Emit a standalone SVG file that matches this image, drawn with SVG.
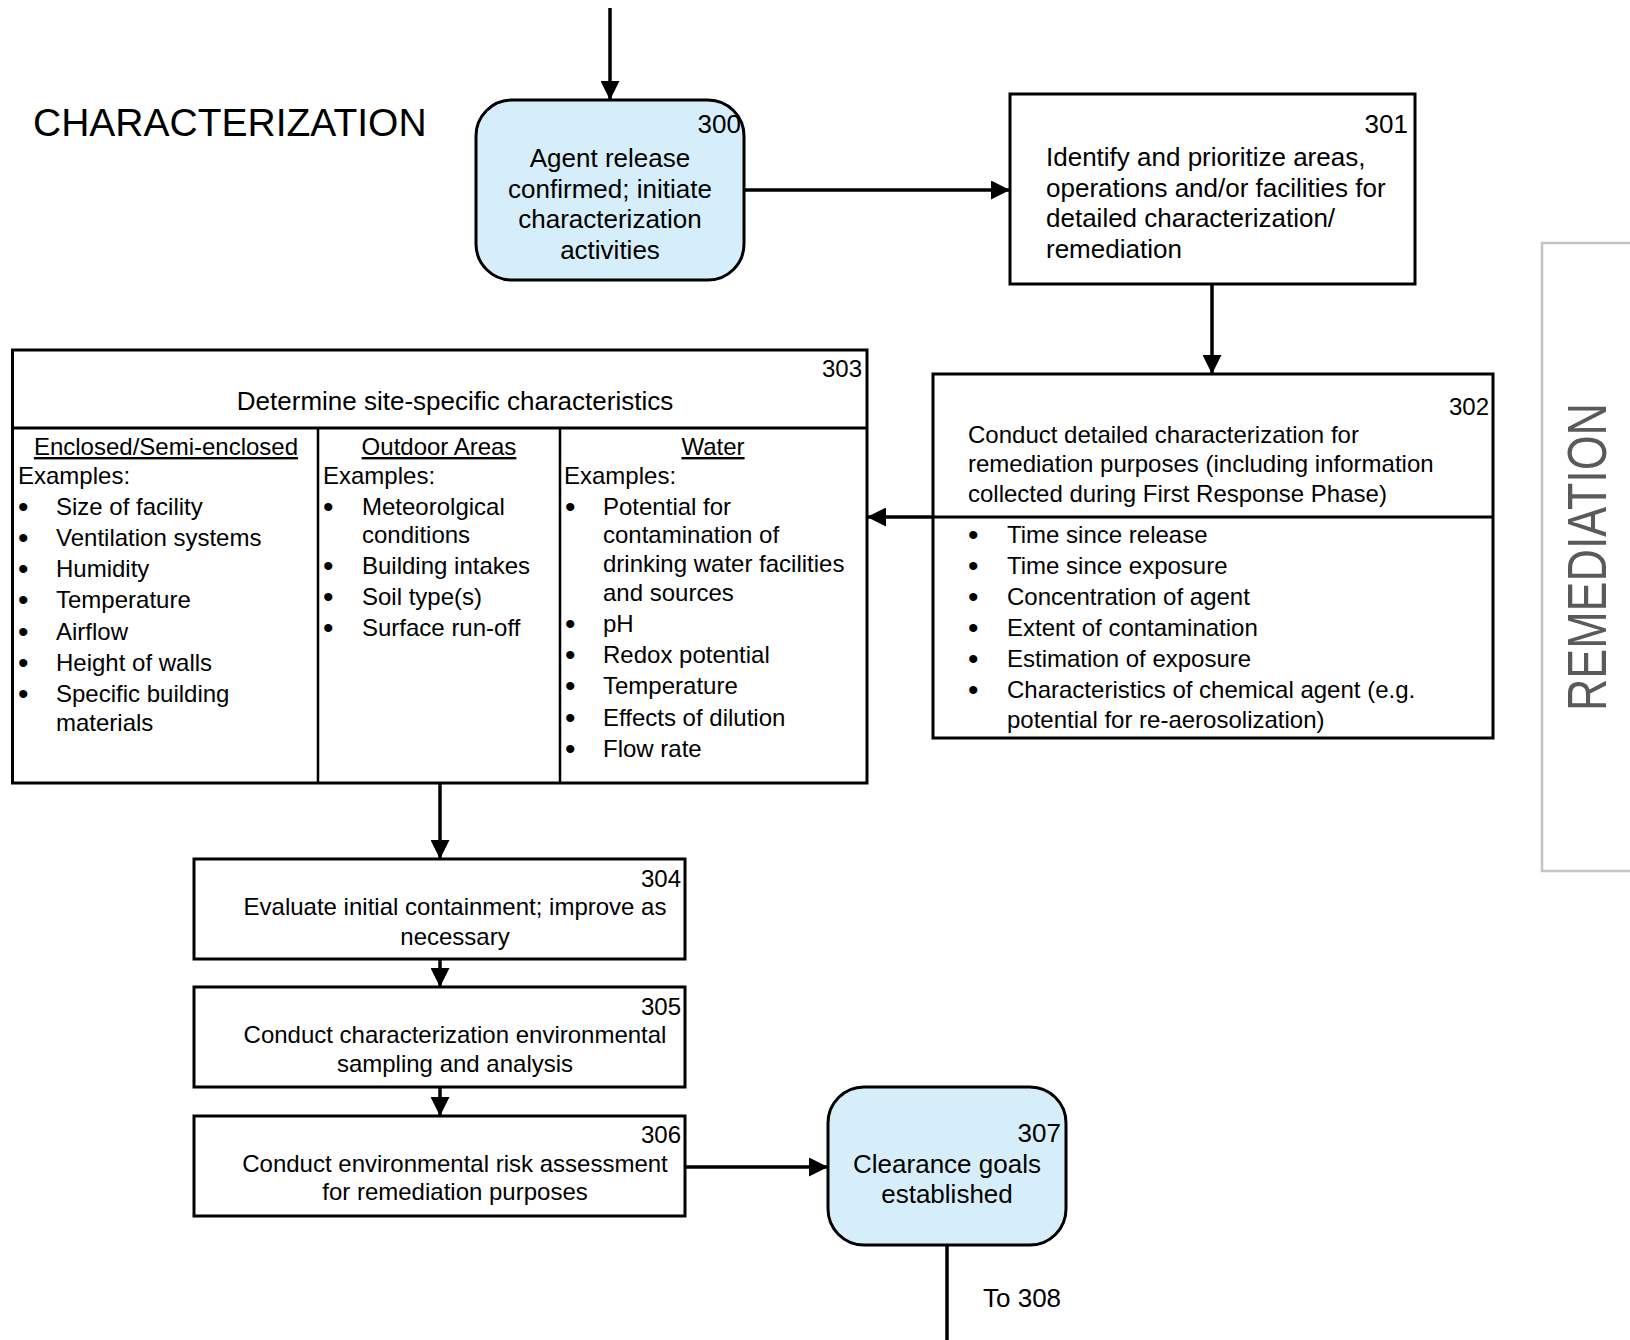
<svg xmlns="http://www.w3.org/2000/svg" width="1630" height="1340" viewBox="0 0 1630 1340">
  <style>
    .box { fill: #ffffff; stroke: #000000; stroke-width: 3; }
    .rbox { fill: #d6eef9; stroke: #000000; stroke-width: 3; }
    .div { stroke: #000000; stroke-width: 3; fill: none; }
    .thin { stroke: #000000; stroke-width: 2.5; fill: none; }
    .conn { stroke: #000000; stroke-width: 3.5; fill: none; }
    text { font-family: "Liberation Sans", Arial, sans-serif; fill: #000000; }
    .f26 { font-size: 26px; }
    .f24 { font-size: 24px; }
    .b { font-size: 30px; }
    .mid { text-anchor: middle; }
    .end { text-anchor: end; }
    .ul { text-decoration: underline; }
  </style>
  <defs>
    <marker id="arrow" markerUnits="userSpaceOnUse" markerWidth="19" markerHeight="19" refX="19" refY="9.5" orient="auto">
      <path d="M0,0 L19,9.5 L0,19 Z" fill="#000000"/>
    </marker>
  </defs>

  <rect width="1630" height="1340" fill="#ffffff"/>

  <!-- phase titles -->
  <text x="33" y="136" style="font-size:39px">CHARACTERIZATION</text>
  <g id="remediation-band">
    <rect x="1542" y="243" width="100" height="628" fill="#ffffff" stroke="#c4c4c4" stroke-width="2.5"/>
    <text transform="translate(1606,557) rotate(-90)" text-anchor="middle" style="font-size:55px;fill:#5a5a5a" textLength="308" lengthAdjust="spacingAndGlyphs">REMEDIATION</text>
  </g>

  <!-- connectors -->
  <g id="connectors">
    <line class="conn" x1="610" y1="8" x2="610" y2="100" marker-end="url(#arrow)"/>
    <line class="conn" x1="744" y1="190" x2="1010" y2="190" marker-end="url(#arrow)"/>
    <line class="conn" x1="1212" y1="284" x2="1212" y2="374" marker-end="url(#arrow)"/>
    <line class="conn" x1="933" y1="517" x2="867" y2="517" marker-end="url(#arrow)"/>
    <line class="conn" x1="440" y1="783" x2="440" y2="859" marker-end="url(#arrow)"/>
    <line class="conn" x1="440" y1="959" x2="440" y2="987" marker-end="url(#arrow)"/>
    <line class="conn" x1="440" y1="1087" x2="440" y2="1116" marker-end="url(#arrow)"/>
    <line class="conn" x1="685" y1="1167" x2="828" y2="1167" marker-end="url(#arrow)"/>
    <line class="conn" x1="947" y1="1245" x2="947" y2="1340"/>
    <text class="f26" x="983" y="1307">To 308</text>
  </g>

  <!-- 300 -->
  <g id="node-300">
    <rect class="rbox" x="476" y="100" width="268" height="180" rx="36" ry="36"/>
    <text class="f26 end" x="741" y="133">300</text>
    <text class="f26 mid" x="610" y="167">Agent release</text>
    <text class="f26 mid" x="610" y="198">confirmed; initiate</text>
    <text class="f26 mid" x="610" y="228">characterization</text>
    <text class="f26 mid" x="610" y="259">activities</text>
  </g>

  <!-- 301 -->
  <g id="node-301">
    <rect class="box" x="1010" y="94" width="405" height="190"/>
    <text class="f26 end" x="1408" y="133">301</text>
    <text class="f26" x="1046" y="166">Identify and prioritize areas,</text>
    <text class="f26" x="1046" y="197">operations and/or facilities for</text>
    <text class="f26" x="1046" y="227">detailed characterization/</text>
    <text class="f26" x="1046" y="258">remediation</text>
  </g>

  <!-- 302 -->
  <g id="node-302">
    <rect class="box" x="933" y="374" width="560" height="364"/>
    <line class="div" x1="933" y1="517" x2="1493" y2="517"/>
    <text class="f24 end" x="1489" y="415">302</text>
    <text class="f24" x="968" y="443">Conduct detailed characterization for</text>
    <text class="f24" x="968" y="472">remediation purposes (including information</text>
    <text class="f24" x="968" y="502">collected during First Response Phase)</text>
    <g class="f24">
      <text class="b" x="968" y="545">•</text><text x="1007" y="543">Time since release</text>
      <text class="b" x="968" y="576">•</text><text x="1007" y="574">Time since exposure</text>
      <text class="b" x="968" y="607">•</text><text x="1007" y="605">Concentration of agent</text>
      <text class="b" x="968" y="638">•</text><text x="1007" y="636">Extent of contamination</text>
      <text class="b" x="968" y="669">•</text><text x="1007" y="667">Estimation of exposure</text>
      <text class="b" x="968" y="700">•</text><text x="1007" y="698">Characteristics of chemical agent (e.g.</text>
      <text x="1007" y="728">potential for re-aerosolization)</text>
    </g>
  </g>

  <!-- 303 -->
  <g id="node-303">
    <rect class="box" x="12.5" y="350" width="854.5" height="433"/>
    <line class="div" x1="12.5" y1="428" x2="867" y2="428"/>
    <line class="thin" x1="318" y1="428" x2="318" y2="783"/>
    <line class="thin" x1="560" y1="428" x2="560" y2="783"/>
    <text class="f24 end" x="862" y="377">303</text>
    <text class="f26 mid" x="455" y="410">Determine site-specific characteristics</text>

    <g class="f24">
      <text class="mid ul" x="166" y="455">Enclosed/Semi-enclosed</text>
      <text x="18" y="484">Examples:</text>
      <text class="b" x="18" y="517">•</text><text x="56" y="515">Size of facility</text>
      <text class="b" x="18" y="548">•</text><text x="56" y="546">Ventilation systems</text>
      <text class="b" x="18" y="579">•</text><text x="56" y="577">Humidity</text>
      <text class="b" x="18" y="610">•</text><text x="56" y="608">Temperature</text>
      <text class="b" x="18" y="642">•</text><text x="56" y="640">Airflow</text>
      <text class="b" x="18" y="673">•</text><text x="56" y="671">Height of walls</text>
      <text class="b" x="18" y="704">•</text><text x="56" y="702">Specific building</text>
      <text x="56" y="731">materials</text>
    </g>

    <g class="f24">
      <text class="mid ul" x="439" y="455">Outdoor Areas</text>
      <text x="323" y="484">Examples:</text>
      <text class="b" x="323" y="517">•</text><text x="362" y="515">Meteorolgical</text>
      <text x="362" y="543">conditions</text>
      <text class="b" x="323" y="576">•</text><text x="362" y="574">Building intakes</text>
      <text class="b" x="323" y="607">•</text><text x="362" y="605">Soil type(s)</text>
      <text class="b" x="323" y="638">•</text><text x="362" y="636">Surface run-off</text>
    </g>

    <g class="f24">
      <text class="mid ul" x="713" y="455">Water</text>
      <text x="564" y="484">Examples:</text>
      <text class="b" x="565" y="517">•</text><text x="603" y="515">Potential for</text>
      <text x="603" y="543">contamination of</text>
      <text x="603" y="572">drinking water facilities</text>
      <text x="603" y="601">and sources</text>
      <text class="b" x="565" y="634">•</text><text x="603" y="632">pH</text>
      <text class="b" x="565" y="665">•</text><text x="603" y="663">Redox potential</text>
      <text class="b" x="565" y="696">•</text><text x="603" y="694">Temperature</text>
      <text class="b" x="565" y="728">•</text><text x="603" y="726">Effects of dilution</text>
      <text class="b" x="565" y="759">•</text><text x="603" y="757">Flow rate</text>
    </g>
  </g>

  <!-- 304 -->
  <g id="node-304">
    <rect class="box" x="194" y="859" width="491" height="100"/>
    <text class="f24 end" x="681" y="887">304</text>
    <text class="f24 mid" x="455" y="915">Evaluate initial containment; improve as</text>
    <text class="f24 mid" x="455" y="945">necessary</text>
  </g>

  <!-- 305 -->
  <g id="node-305">
    <rect class="box" x="194" y="987" width="491" height="100"/>
    <text class="f24 end" x="681" y="1015">305</text>
    <text class="f24 mid" x="455" y="1043">Conduct characterization environmental</text>
    <text class="f24 mid" x="455" y="1072">sampling and analysis</text>
  </g>

  <!-- 306 -->
  <g id="node-306">
    <rect class="box" x="194" y="1116" width="491" height="100"/>
    <text class="f24 end" x="681" y="1143">306</text>
    <text class="f24 mid" x="455" y="1172">Conduct environmental risk assessment</text>
    <text class="f24 mid" x="455" y="1200">for remediation purposes</text>
  </g>

  <!-- 307 -->
  <g id="node-307">
    <rect class="rbox" x="828" y="1087" width="238" height="158" rx="36" ry="36"/>
    <text class="f26 end" x="1061" y="1142">307</text>
    <text class="f26 mid" x="947" y="1173">Clearance goals</text>
    <text class="f26 mid" x="947" y="1203">established</text>
  </g>
</svg>
